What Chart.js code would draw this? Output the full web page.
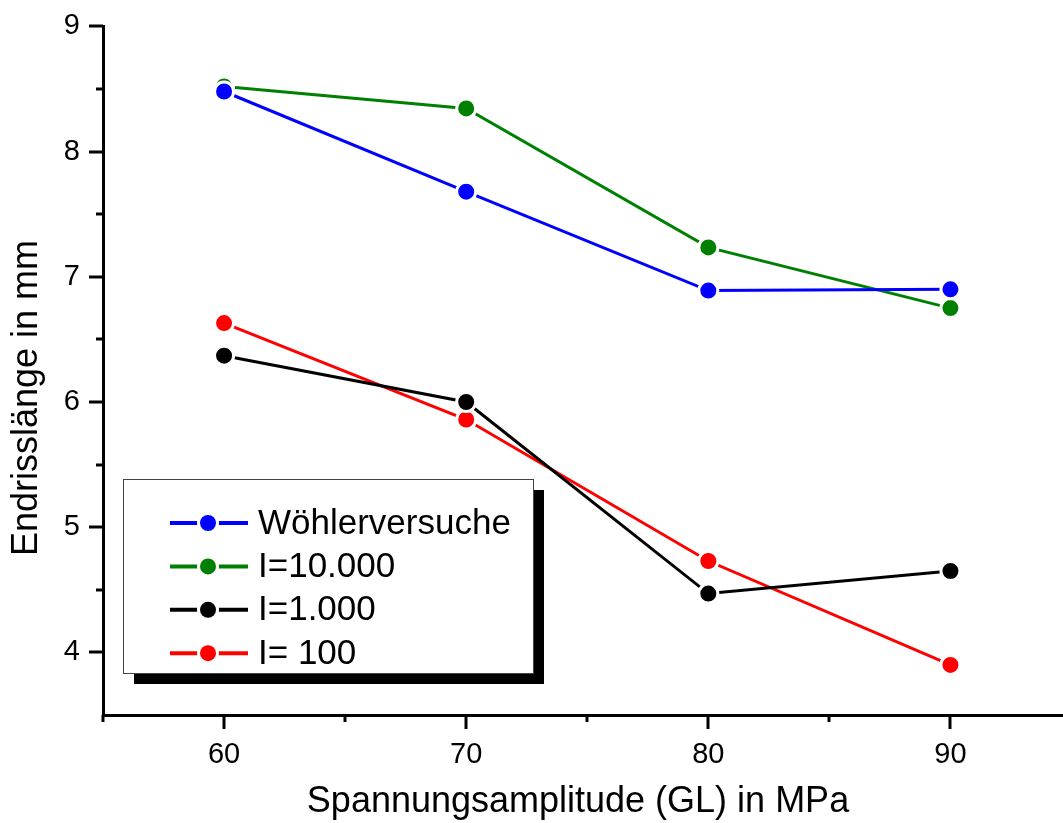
<!DOCTYPE html>
<html>
<head>
<meta charset="utf-8">
<script src="https://cdn.jsdelivr.net/npm/chart.js@4"></script>
<style>
  html, body { margin: 0; padding: 0; background: #fff; overflow: hidden; }
  canvas { display: block; }
</style>
</head>
<body>
<canvas id="chart" width="1084" height="823"></canvas>
<script>
// values
const amplitudes = [60, 70, 80, 90];
const woehler = [8.48, 7.68, 6.89, 6.90];
const i10000 = [8.52, 8.345, 7.235, 6.75];
const i1000 = [6.37, 6.0, 4.47, 4.65];
const i100 = [6.63, 5.86, 4.73, 3.90];
const seriesNames = ['Wöhlerversuche', 'I=10.000', 'I=1.000', 'I= 100'];
const seriesColors = ['#0000ff', '#008000', '#000000', '#ff0000'];
const xTitle = 'Spannungsamplitude (GL) in MPa';
const yTitle = 'Endrisslänge in mm';

const FONT = "'Liberation Sans', Arial, sans-serif";

function makeSet(i, values) {
  return {
    label: seriesNames[i],
    data: amplitudes.map((a, k) => ({ x: a, y: values[k] })),
    borderColor: seriesColors[i],
    backgroundColor: seriesColors[i],
    borderWidth: 3,
    tension: 0,
    pointRadius: 9.5,
    pointHoverRadius: 9.5,
    pointBackgroundColor: seriesColors[i],
    pointBorderColor: '#ffffff',
    pointBorderWidth: 3,
    clip: false
  };
}

// tick marks: long for labelled ticks, short for the minor ones
const tickMarks = {
  id: 'tickMarks',
  afterDraw(chart) {
    const { ctx, scales: { x, y } } = chart;
    ctx.save();
    ctx.strokeStyle = '#000';
    ctx.lineWidth = 3;
    x.ticks.forEach(t => {
      const px = Math.round(x.getPixelForValue(t.value));
      const len = t.value % 10 === 0 ? 14 : 7;
      ctx.beginPath();
      ctx.moveTo(px, x.top);
      ctx.lineTo(px, x.top + len);
      ctx.stroke();
    });
    y.ticks.forEach(t => {
      if (t.value === y.min) return;
      const py = Math.round(y.getPixelForValue(t.value));
      const len = Number.isInteger(t.value) ? 14 : 7;
      ctx.beginPath();
      ctx.moveTo(y.right, py);
      ctx.lineTo(y.right - len, py);
      ctx.stroke();
    });
    // axis titles
    ctx.fillStyle = '#000';
    ctx.font = '36px ' + FONT;
    ctx.textAlign = 'center';
    ctx.textBaseline = 'alphabetic';
    ctx.fillText(xTitle, 578, 812);
    ctx.translate(37, 398);
    ctx.rotate(-Math.PI / 2);
    ctx.fillText(yTitle, 0, 0);
    ctx.restore();
  }
};

// boxed legend with a drop shadow
const boxLegend = {
  id: 'boxLegend',
  afterDatasetsDraw(chart) {
    const { ctx } = chart;
    const bx = 123, by = 479, bw = 410, bh = 194, sh = 11;
    ctx.save();
    ctx.fillStyle = '#000';
    ctx.fillRect(bx + sh, by + sh, bw, bh);
    ctx.fillStyle = '#fff';
    ctx.fillRect(bx, by, bw, bh);
    ctx.strokeStyle = '#444';
    ctx.lineWidth = 1;
    ctx.strokeRect(bx + 0.5, by + 0.5, bw, bh);
    ctx.font = '35px ' + FONT;
    ctx.textBaseline = 'middle';
    ctx.textAlign = 'left';
    chart.data.datasets.forEach((ds, i) => {
      const cy = 523 + i * 43.4;
      ctx.strokeStyle = ds.borderColor;
      ctx.lineWidth = 4;
      ctx.beginPath();
      ctx.moveTo(170, cy);
      ctx.lineTo(248, cy);
      ctx.stroke();
      ctx.fillStyle = '#fff';
      ctx.beginPath();
      ctx.arc(208, cy, 11, 0, Math.PI * 2);
      ctx.fill();
      ctx.fillStyle = ds.borderColor;
      ctx.beginPath();
      ctx.arc(208, cy, 8, 0, Math.PI * 2);
      ctx.fill();
      ctx.fillStyle = '#000';
      ctx.fillText(ds.label, 258, cy + 1);
    });
    ctx.restore();
  }
};

new Chart(document.getElementById('chart'), {
  type: 'line',
  data: {
    datasets: [
      makeSet(0, woehler),
      makeSet(1, i10000),
      makeSet(2, i1000),
      makeSet(3, i100)
    ]
  },
  options: {
    responsive: false,
    animation: false,
    events: [],
    layout: { padding: { top: 26, right: 0, left: 0, bottom: 0 } },
    plugins: { legend: { display: false }, tooltip: { enabled: false } },
    scales: {
      x: {
        type: 'linear',
        min: 55,
        max: 95,
        grid: { display: false, drawTicks: true, tickLength: 14 },
        border: { display: true, color: '#000', width: 3 },
        ticks: {
          stepSize: 5,
          padding: 9,
          color: '#000',
          font: { family: FONT, size: 29 },
          maxRotation: 0,
          autoSkip: false,
          callback: v => (v % 10 === 0 && v < 95 ? String(v) : '')
        },
        afterFit(scale) { scale.height = 108; }
      },
      y: {
        type: 'linear',
        min: 3.5,
        max: 9,
        grid: { display: false, drawTicks: true, tickLength: 14 },
        border: { display: true, color: '#000', width: 3 },
        ticks: {
          stepSize: 0.5,
          padding: 9,
          color: '#000',
          font: { family: FONT, size: 29 },
          autoSkip: false,
          callback: v => (Number.isInteger(v) ? String(v) : '')
        },
        afterFit(scale) { scale.width = 103; }
      }
    }
  },
  plugins: [tickMarks, boxLegend]
});
</script>
</body>
</html>
